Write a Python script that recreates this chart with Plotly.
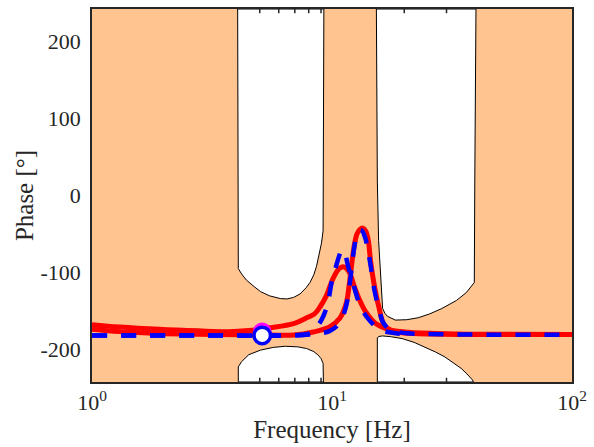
import plotly.graph_objects as go

# ---------------- data ----------------
Y_RANGE = [-242.5, 242.5]
X_TICKS = [1, 10, 100]
X_TICKTEXT = ["10<sup>0</sup>", "10<sup>1</sup>", "10<sup>2</sup>"]
Y_TICKS = [-200, -100, 0, 100, 200]
Y_TICKTEXT = ["-200", "-100", "0", "100", "200"]

# forbidden-region holes (white) inside the shaded area
hole_tl_f = [4.045, 4.07, 4.2, 4.4, 4.74, 5.04, 5.5, 6.09, 6.5, 6.92, 7.36, 7.8, 8.1, 8.4, 8.62, 8.85, 9.04, 9.18, 9.25]
hole_tl_p = [242.5, -95, -102, -110, -118.5, -125, -130.5, -134, -134.5, -132.5, -128, -120, -113, -103, -92, -76, -62, -46, 242.5]

hole_tr_f = [15.31, 15.45, 15.64, 15.94, 16.25, 16.6, 17.03, 18.37, 20.5, 22.84, 25.5, 28.66, 33.04, 36.31, 39.17, 39.35, 39.8]
hole_tr_p = [242.5, 18.9, -58.8, -110.5, -146.8, -153, -157.1, -162, -161.5, -159, -154, -147, -136.4, -126.1, -113.1, 18.9, 242.5]

hole_bl_f = [4.07, 4.07, 4.2, 4.5, 5.04, 5.7, 6.39, 7.2, 7.84, 8.4, 8.76, 9.0, 9.18, 9.21]
hole_bl_p = [-242.5, -222.8, -216, -207, -201, -197.5, -196, -196.8, -199, -203, -207.6, -212, -218.4, -242.5]

hole_br_f = [15.45, 15.45, 15.7, 16.21, 17.5, 19.57, 22, 24.4, 27, 29.49, 32, 34.53, 36.5, 38.53, 38.8]
hole_br_p = [-242.5, -185, -183.3, -182.6, -183.5, -186, -191, -197, -203.5, -209.8, -217, -224.8, -232, -240, -242.5]

# minor ticks visible inside the white holes
minor_top = [5, 6, 7, 8, 9, 20, 30]
minor_bottom = [5, 6, 7, 8, 9, 20, 30]

# red (solid) curves
red_a_f = [1, 1.3, 1.9, 2.77, 3.7, 4.5, 5.54, 6.92, 7.84, 8.46, 8.95, 9.47, 10.1, 10.75, 11.27, 11.81, 12.39, 12.99, 13.83, 15.21, 17.25, 20.84, 29.5, 47.3, 100]
red_a_p = [-168, -171, -174, -176, -177, -175.5, -172, -166.6, -159, -154, -144, -130.5, -108, -94.5, -93, -100, -118.5, -135, -151.5, -166.5, -174.3, -177.8, -179.8, -180.5, -180.8]

red_b_f = [1, 1.3, 1.9, 2.77, 4.12, 5.54, 6.92, 8.36, 9.77, 10.75, 11.45, 11.81, 12.13, 12.42, 12.72, 13.1, 13.45, 13.82, 14.15, 14.5, 14.96, 15.69, 16.45, 17.81, 20.78, 30, 100]
red_b_p = [-174, -177, -179.5, -180.5, -181, -181.5, -181.5, -177.5, -171, -160, -140.7, -114.8, -84.6, -62.6, -49.7, -43.7, -42.4, -46.3, -57.5, -87, -114.4, -145.5, -167.5, -176.2, -179.1, -180.3, -180.8]

# blue (dashed) curves
blue_a_f = [1, 3, 6, 7.8, 8.3, 8.7, 9.2, 9.6, 10.05, 10.4, 10.7, 11.0, 11.3, 11.67, 12.24, 12.95, 13.96, 15.79, 18.37, 22]
blue_a_p = [-182, -182, -182, -180.5, -177, -170, -157, -140, -107, -92, -79, -70.5, -75, -92, -114, -139, -158, -174, -179, -180.5]

blue_b_f = [1, 3, 6, 8.5, 9.8, 10.75, 11.4, 11.8, 12.1, 12.4, 12.7, 13.0, 13.35, 13.75, 14.1, 14.5, 15.0, 15.7, 16.4, 17.6, 20.5, 30, 100]
blue_b_p = [-182, -182, -182, -180, -176, -166, -146, -120, -92, -66, -51, -45, -46, -55, -70, -92, -122, -148, -166, -175, -179, -180.5, -181]

# highlighted points
magenta_pt = (5.12, -177.5)
blue_pt = (5.12, -182)

# ---------------- figure ----------------
ORANGE = "rgb(255,196,144)"
AXC = "#262626"
FONT = "Liberation Serif"

fig = go.Figure()

for hf, hp in [(hole_tl_f, hole_tl_p), (hole_tr_f, hole_tr_p),
               (hole_bl_f, hole_bl_p), (hole_br_f, hole_br_p)]:
    fig.add_trace(go.Scatter(x=hf + [hf[0]], y=hp + [hp[0]], mode="lines",
                             fill="toself", fillcolor="white",
                             line=dict(color="black", width=1),
                             hoverinfo="skip", showlegend=False))

# minor tick marks (only show where the background is white)
tick_len = 5.5
tx, ty = [], []
for v in minor_top:
    tx += [v, v, None]
    ty += [Y_RANGE[1], Y_RANGE[1] - tick_len, None]
for v in minor_bottom:
    tx += [v, v, None]
    ty += [Y_RANGE[0], Y_RANGE[0] + tick_len, None]
fig.add_trace(go.Scatter(x=tx, y=ty, mode="lines", line=dict(color=AXC, width=1.5),
                         hoverinfo="skip", showlegend=False))

for f, p in [(red_a_f, red_a_p), (red_b_f, red_b_p)]:
    fig.add_trace(go.Scatter(x=f, y=p, mode="lines", line_shape="spline",
                             line=dict(color="rgb(255,0,0)", width=5),
                             showlegend=False))
for f, p in [(blue_a_f, blue_a_p), (blue_b_f, blue_b_p)]:
    fig.add_trace(go.Scatter(x=f, y=p, mode="lines", line_shape="spline",
                             line=dict(color="rgb(0,0,255)", width=4.5, dash="15px,14px"),
                             showlegend=False))

fig.add_trace(go.Scatter(x=[magenta_pt[0]], y=[magenta_pt[1]], mode="markers",
                         marker=dict(size=17, color="rgb(255,0,255)",
                                     line=dict(color="rgb(255,0,255)", width=2)),
                         showlegend=False))
fig.add_trace(go.Scatter(x=[blue_pt[0]], y=[blue_pt[1]], mode="markers",
                         marker=dict(size=16.5, color="white",
                                     line=dict(color="rgb(0,0,255)", width=3.5)),
                         showlegend=False))

fig.update_layout(
    width=594, height=447,
    margin=dict(l=92, r=15, t=7, b=65),
    paper_bgcolor="white", plot_bgcolor=ORANGE,
    font=dict(family=FONT, size=22, color="#262626"),
    showlegend=False,
)
fig.update_xaxes(type="log", range=[0, 2], tickvals=X_TICKS, ticktext=X_TICKTEXT,
                 ticks="", showgrid=False, zeroline=False,
                 showline=True, mirror=True, linecolor=AXC, linewidth=1.5,
                 tickfont=dict(family=FONT, size=22, color="#262626"),
                 title=dict(text="Frequency [Hz]", font=dict(family=FONT, size=25, color="#262626"),
                            standoff=6))
fig.update_yaxes(range=Y_RANGE, tickvals=Y_TICKS, ticktext=Y_TICKTEXT,
                 ticks="", showgrid=False, zeroline=False,
                 showline=True, mirror=True, linecolor=AXC, linewidth=1.5,
                 tickfont=dict(family=FONT, size=22, color="#262626"),
                 ticklabelstandoff=5,
                 title=dict(text="Phase [°]", font=dict(family=FONT, size=25, color="#262626"),
                            standoff=0))

fig.write_html("out.html")
